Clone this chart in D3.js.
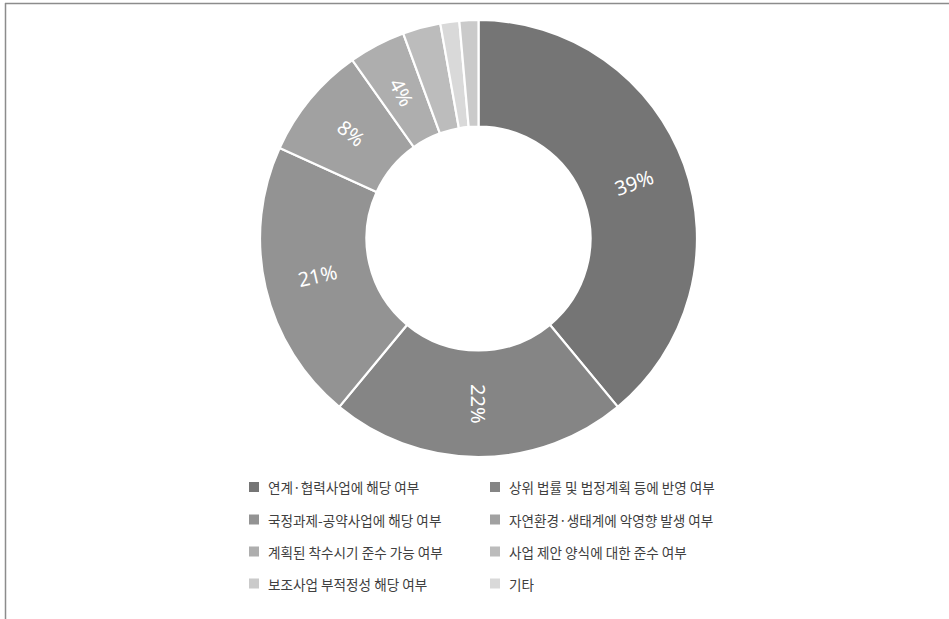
<!DOCTYPE html>
<html>
<head>
<meta charset="utf-8">
<script src="https://cdn.jsdelivr.net/npm/d3@7"></script>
<style>
  html, body { margin: 0; padding: 0; background: #fff; }
  svg { display: block; }
</style>
</head>
<body>
<svg id="chart" width="949" height="619"></svg>
<script>
// Categories (legend order)
const categories = [
  "연계·협력사업에 해당 여부",
  "상위 법률 및 법정계획 등에 반영 여부",
  "국정과제-공약사업에 해당 여부",
  "자연환경·생태계에 악영향 발생 여부",
  "계획된 착수시기 준수 가능 여부",
  "사업 제안 양식에 대한 준수 여부",
  "보조사업 부적정성 해당 여부",
  "기타"
];
// Shares in percent (legend order)
const values = [39.0, 22.0, 20.8, 8.4, 4.2, 2.8, 1.4, 1.4];
// Fill colours (legend order)
const colors = ["#757575", "#858585", "#939393", "#a1a1a1", "#aeaeae", "#bcbcbc", "#cacaca", "#d9d9d9"];
// Order in which the slices run clockwise from 12 o'clock
const sliceOrder = [0, 1, 2, 3, 4, 5, 7, 6];

const svg = d3.select("#chart");
const W = 949, H = 619;

// frame lines (top and left)
svg.append("line").attr("x1", 5).attr("y1", 3.5).attr("x2", W).attr("y2", 3.5)
  .attr("stroke", "#8c8c8c").attr("stroke-width", 1.5);
svg.append("line").attr("x1", 5.5).attr("y1", 3).attr("x2", 5.5).attr("y2", H)
  .attr("stroke", "#8c8c8c").attr("stroke-width", 1.5);

const cx = 478.5, cy = 238.5;
const rOuter = 218.5, rInner = 112;

const data = sliceOrder.map(i => ({ name: categories[i], value: values[i], color: colors[i] }));

const pie = d3.pie().sort(null).value(d => d.value);
const arcs = pie(data);
const arc = d3.arc().innerRadius(rInner).outerRadius(rOuter);

const g = svg.append("g").attr("transform", `translate(${cx},${cy})`);

g.selectAll("path.slice").data(arcs).join("path")
  .attr("class", "slice")
  .attr("d", arc)
  .attr("fill", d => d.data.color)
  .attr("stroke", "#fff")
  .attr("stroke-width", 2.2)
  .attr("stroke-linejoin", "miter");

// labels for slices >= 4%
const labelArc = d3.arc().innerRadius((rInner + rOuter) / 2).outerRadius((rInner + rOuter) / 2);
g.selectAll("text.lbl").data(arcs.filter(d => d.data.value >= 3.5)).join("text")
  .attr("class", "lbl")
  .attr("transform", d => {
    const [x, y] = labelArc.centroid(d);
    const mid = (d.startAngle + d.endAngle) / 2 * 180 / Math.PI;
    let rot = mid - 90;
    if (rot > 90.01) rot -= 180;
    return `translate(${x},${y}) rotate(${rot})`;
  })
  .attr("text-anchor", "middle")
  .attr("dominant-baseline", "central")
  .attr("fill", "#fff")
  .attr("font-family", "'Noto Sans', 'Open Sans', sans-serif")
  .attr("font-size", 20)
  .text(d => Math.round(d.data.value) + "%");

// legend
const legend = svg.append("g");
const colX = [249, 490];
const rowY = [487, 519.5, 551.5, 583.5];
categories.forEach((name, i) => {
  const x = colX[i % 2], y = rowY[Math.floor(i / 2)];
  legend.append("rect").attr("x", x).attr("y", y - 5).attr("width", 10).attr("height", 10)
    .attr("fill", colors[i]);
  legend.append("text").attr("x", x + 19).attr("y", y)
    .attr("dominant-baseline", "central")
    .attr("font-family", "'Noto Sans CJK KR', sans-serif")
    .attr("font-size", 13.6)
    .attr("fill", "#404040")
    .text(name);
});
</script>
</body>
</html>
